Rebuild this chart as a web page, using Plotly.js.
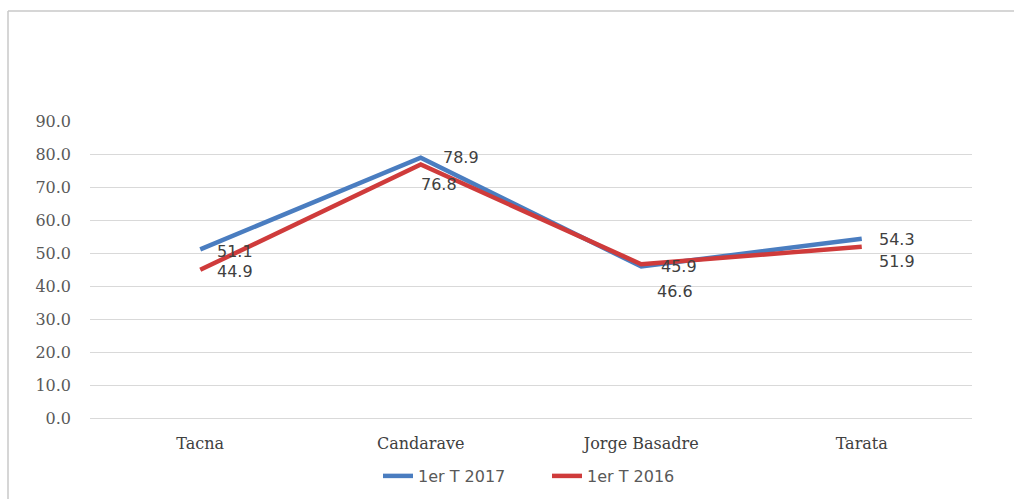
<!DOCTYPE html>
<html>
<head>
<meta charset="utf-8">
<script src="https://cdn.plot.ly/plotly-3.0.1.min.js"></script>
<style>html,body{margin:0;padding:0;background:#fff;}#chart{width:1014px;height:499px;}</style>
</head>
<body>
<div id="chart"></div>
<script>
const categories = ["Tacna", "Candarave", "Jorge Basadre", "Tarata"];
const series2017 = [51.1, 78.9, 45.9, 54.3];
const series2016 = [44.9, 76.8, 46.6, 51.9];
const seriesNames = ["1er T 2017", "1er T 2016"];
const yTicks = [0, 10, 20, 30, 40, 50, 60, 70, 80, 90];

// label offsets (pixels) per point
const off2017 = [[35, -2], [40, 0], [38, 0], [35, -1]];
const off2016 = [[35, -2], [18, -20], [34, -27], [35, -15]];

const labelFont = {family: "DejaVu Sans", size: 16, color: "#404040"};
const annotations = [];
categories.forEach((c, i) => {
  annotations.push({x: c, y: series2017[i], text: series2017[i].toFixed(1), showarrow: false,
    xshift: off2017[i][0], yshift: off2017[i][1], font: labelFont});
  annotations.push({x: c, y: series2016[i], text: series2016[i].toFixed(1), showarrow: false,
    xshift: off2016[i][0], yshift: off2016[i][1], font: labelFont});
});

const W = 1014, H = 499, L = 90, R = 42, T = 121, B = 81;
const pw = W - L - R, ph = H - T - B;
const px = v => (v - L) / pw;
const py = v => (H - B - v) / ph;

const traces = [
  {x: categories, y: series2017, name: seriesNames[0], type: "scatter", mode: "lines",
   line: {color: "#4a7dc0", width: 4.5}},
  {x: categories, y: series2016, name: seriesNames[1], type: "scatter", mode: "lines",
   line: {color: "#cf3b3b", width: 4.5}}
];

const layout = {
  width: W, height: H,
  margin: {l: L, r: R, t: T, b: B, pad: 0, autoexpand: false},
  paper_bgcolor: "#ffffff", plot_bgcolor: "#ffffff",
  showlegend: true,
  legend: {orientation: "h", x: px(378), xanchor: "left", y: py(476), yanchor: "middle",
    font: {family: "DejaVu Sans", size: 16, color: "#595959"}, itemwidth: 30, tracegroupgap: 0,
    entrywidth: 124, entrywidthmode: "pixels"},
  xaxis: {type: "category", range: [-0.5, 3.5], showgrid: false, zeroline: false, showline: false,
    ticks: "", ticklabelstandoff: 14, automargin: false,
    tickfont: {family: "DejaVu Serif", size: 16, color: "#404040"}},
  yaxis: {range: [0, 90], tickvals: yTicks, tickformat: ".1f", showgrid: true, gridcolor: "#d9d9d9",
    gridwidth: 1, zeroline: true, zerolinecolor: "#d9d9d9", zerolinewidth: 1, showline: false,
    ticks: "", ticklabelstandoff: 18, automargin: false,
    tickfont: {family: "DejaVu Serif", size: 16, color: "#595959"}},
  annotations: annotations,
  shapes: [
    {type: "line", xref: "paper", yref: "paper", x0: px(8), x1: px(8), y0: py(11), y1: py(499),
     line: {color: "#c8c8c8", width: 1.5}},
    {type: "line", xref: "paper", yref: "paper", x0: px(8), x1: px(1014), y0: py(11), y1: py(11),
     line: {color: "#c8c8c8", width: 1.5}}
  ]
};

Plotly.newPlot("chart", traces, layout, {displayModeBar: false, staticPlot: true});
</script>
</body>
</html>
